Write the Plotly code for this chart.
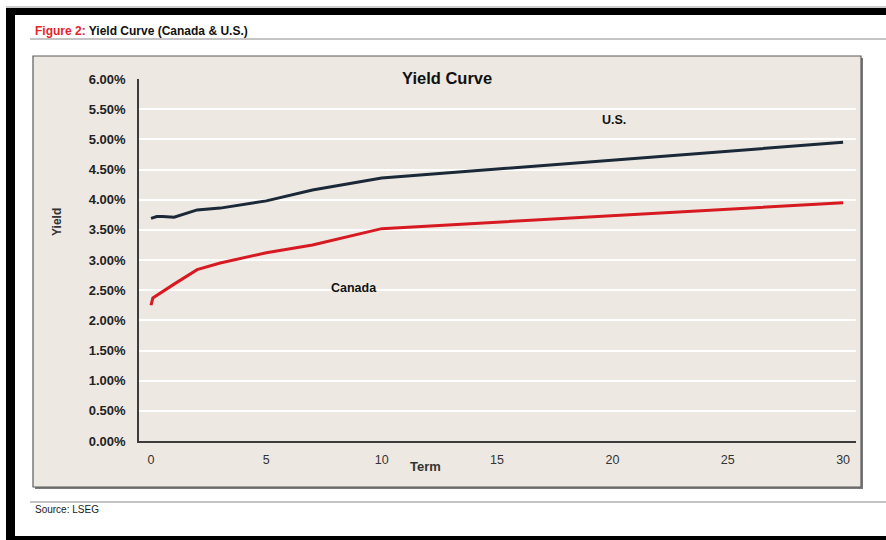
import plotly.graph_objects as go

# ---- data ----
us_term = [0.0, 0.25, 0.5, 1, 2, 3, 5, 7, 10, 30]
us_yield = [3.69, 3.72, 3.72, 3.71, 3.83, 3.86, 3.98, 4.16, 4.36, 4.95]
ca_term = [0.0, 0.08, 1, 2, 3, 5, 7, 10, 30]
ca_yield = [2.25, 2.37, 2.60, 2.84, 2.95, 3.12, 3.25, 3.52, 3.95]
y_ticks = [i * 0.5 for i in range(13)]
y_ticklabels = [f"{v:.2f}%" for v in y_ticks]
x_ticks = [0, 5, 10, 15, 20, 25, 30]

W, H = 886, 540
L, R, T, B = 139, 30, 79, 99
PW, PH = W - L - R, H - T - B

def px(x):
    return (x - L) / PW

def py(y):
    return (H - B - y) / PH

FONT = "Liberation Sans, Arial, sans-serif"

fig = go.Figure()
fig.add_trace(go.Scatter(x=us_term, y=us_yield, mode="lines", name="U.S.",
                         line=dict(color="#1b2838", width=3), hoverinfo="skip"))
fig.add_trace(go.Scatter(x=ca_term, y=ca_yield, mode="lines", name="Canada",
                         line=dict(color="#d71a21", width=3), hoverinfo="skip"))

shapes = []
def rect(x0, y0, x1, y1, fill, line_color=None, lw=0, layer="above"):
    shapes.append(dict(type="rect", xref="paper", yref="paper",
                       x0=px(x0), x1=px(x1), y0=py(y1), y1=py(y0),
                       fillcolor=fill, layer=layer,
                       line=dict(color=line_color or fill, width=lw)))

def hline(x0, x1, y, color, lw=1):
    shapes.append(dict(type="line", xref="paper", yref="paper",
                       x0=px(x0), x1=px(x1), y0=py(y), y1=py(y),
                       line=dict(color=color, width=lw), layer="above"))

# chart box with shadow
rect(35, 58, 863, 489, "#7a7a7a", layer="below")
rect(33, 56, 861, 487, "#ede9e2", "#5c5c5c", 1.2, layer="below")
# page decorations
hline(6, 886, 7, "#9a9a9a", 1)
rect(6, 8, 886, 15, "#000000")
rect(6, 8, 15, 540, "#000000")
rect(6, 536, 886, 540, "#000000")
hline(30, 886, 39, "#8a8a8a", 1.2)
hline(30, 886, 502, "#8a8a8a", 1.2)

annotations = [
    dict(x=px(33), y=py(31), xref="paper", yref="paper", xanchor="left", yanchor="middle",
         text="<span style='color:#e3242b'>Figure 2:</span> Yield Curve (Canada &amp; U.S.)",
         showarrow=False, font=dict(family=FONT, size=12, color="#111111", weight="bold")),
    dict(x=px(33), y=py(510), xref="paper", yref="paper", xanchor="left", yanchor="middle",
         text="Source: LSEG", showarrow=False,
         font=dict(family=FONT, size=10, color="#222222")),
    dict(x=px(447), y=py(78), xref="paper", yref="paper", xanchor="center", yanchor="middle",
         text="Yield Curve", showarrow=False,
         font=dict(family=FONT, size=16.5, color="#111111", weight="bold")),
    dict(x=px(614), y=py(120), xref="paper", yref="paper", xanchor="center", yanchor="middle",
         text="U.S.", showarrow=False,
         font=dict(family=FONT, size=12.5, color="#111111", weight="bold")),
    dict(x=px(354), y=py(288), xref="paper", yref="paper", xanchor="center", yanchor="middle",
         text="Canada", showarrow=False,
         font=dict(family=FONT, size=12.5, color="#111111", weight="bold")),
    dict(x=px(425), y=py(466), xref="paper", yref="paper", xanchor="center", yanchor="middle",
         text="Term", showarrow=False,
         font=dict(family=FONT, size=13, color="#333333", weight="bold")),
    dict(x=px(57), y=py(222), xref="paper", yref="paper", xanchor="center", yanchor="middle",
         text="Yield", showarrow=False, textangle=-90,
         font=dict(family=FONT, size=12, color="#333333", weight="bold")),
]

fig.update_layout(
    width=W, height=H,
    margin=dict(l=L, r=R, t=T, b=B),
    paper_bgcolor="#ffffff",
    plot_bgcolor="rgba(0,0,0,0)",
    showlegend=False,
    shapes=shapes,
    annotations=annotations,
    xaxis=dict(range=[-0.52, 30.56], tickvals=x_ticks, showgrid=False, zeroline=False,
               showline=True, linecolor="#3c3c3c", linewidth=1.5,
               ticks="outside", ticklen=6, tickcolor="rgba(0,0,0,0)",
               tickfont=dict(family=FONT, size=12.5, color="#333333")),
    yaxis=dict(range=[0, 6], tickvals=y_ticks, ticktext=y_ticklabels,
               showgrid=True, gridcolor="#ffffff", gridwidth=1.5, zeroline=False,
               showline=True, linecolor="#3c3c3c", linewidth=1.5,
               ticks="outside", ticklen=9, tickcolor="rgba(0,0,0,0)",
               tickfont=dict(family=FONT, size=13, color="#222222", weight="bold")),
)

fig.write_html("out.html")
